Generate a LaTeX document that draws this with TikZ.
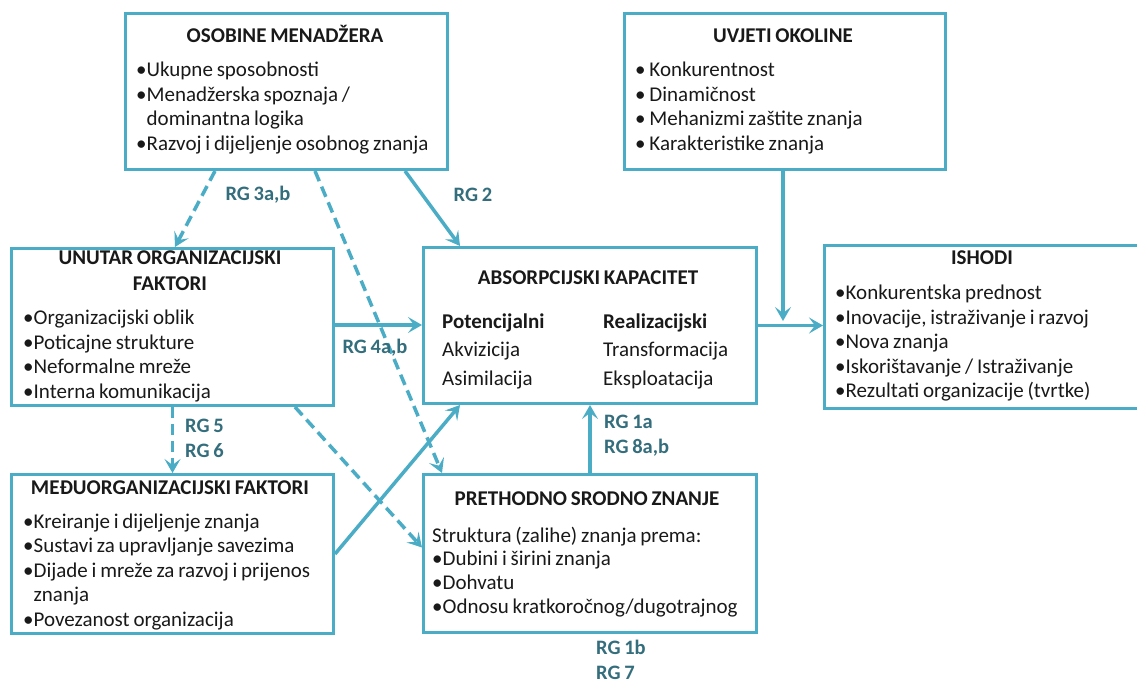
\documentclass[tikz,border=0pt]{standalone}
\usepackage{fontspec}
\setmainfont{Carlito}[WordSpace=0.8]
\usepackage{tikz}
\usetikzlibrary{arrows.meta,positioning}
\definecolor{okvir}{RGB}{75,172,198}
\definecolor{oznaka}{RGB}{52,110,125}
\tikzset{
    % 方框
    kutija/.style={
        draw=okvir,
        line width=3pt,
        anchor=north west,
        inner sep=0pt
    },
    % 标题
    naslov/.style={
        font=\bfseries\fontsize{21}{26}\selectfont,
        anchor=base,
        align=center,
        text=black!90,
        inner sep=0pt
    },
    % 列表文字
    popis/.style={
        font=\fontsize{21}{24.5}\selectfont,
        anchor=base west,
        align=flush left,
        text width=310pt,
        text=black!90,
        inner sep=0pt
    },
    % RG 标注
    rg/.style={
        font=\bfseries\fontsize{20.5}{25}\selectfont,
        text=oznaka,
        align=left,
        inner sep=0pt
    },
    % 实线箭头
    strelica/.style={
        line width=3.5pt,
        draw=okvir,
        -{Stealth[length=14pt, width=16pt, inset=6pt]}
    },
    % 虚线箭头
    crtkana/.style={
        strelica,
        dash pattern=on 11pt off 6pt
    }
}

\begin{document}
\begin{tikzpicture}[x=1pt,y=-1pt]
	\clip (0,0) rectangle (1137,684);
	
	% 方框
	\node[kutija,minimum width=322pt,minimum height=156pt] (menadzer) at (124,12) {};
	\node[kutija,minimum width=321pt,minimum height=156pt] (okolina) at (623,12) {};
	\node[kutija,minimum width=330pt,minimum height=163pt] (ishodi) at (823,244) {};
	\node[kutija,minimum width=322pt,minimum height=157pt] (unutar) at (10,247) {};
	\node[kutija,minimum width=333pt,minimum height=156pt] (kapacitet) at (422,246) {};
	\node[kutija,minimum width=322pt,minimum height=159pt] (medju) at (10,473) {};
	\node[kutija,minimum width=333pt,minimum height=158pt] (znanje) at (422,473) {};
	
	% 标题
	\node[naslov] (menadzerT) at (285,43) {OSOBINE MENADŽERA};
	\node[naslov] (okolinaT) at (783,43) {UVJETI OKOLINE};
	\node[naslov] (ishodiT) at (982,265) {ISHODI};
	\node[naslov] (unutarT) at (170,291) {UNUTAR ORGANIZACIJSKI\\FAKTORI};
	\node[naslov] (kapacitetT) at (588,285) {ABSORPCIJSKI KAPACITET};
	\node[naslov] (medjuT) at (170,494) {MEĐUORGANIZACIJSKI FAKTORI};
	\node[naslov] (znanjeT) at (587,505) {PRETHODNO SRODNO ZNANJE};
	
	% 列表
	\node[popis] (menadzerL) at (136,77) {•Ukupne sposobnosti\\
		•Menadžerska spoznaja /\\ \phantom{•}dominantna logika\\
		•Razvoj i dijeljenje osobnog znanja};
	\node[popis] (okolinaL) at (635,77) {• Konkurentnost\\• Dinamičnost\\
		• Mehanizmi zaštite znanja\\• Karakteristike znanja};
	\node[popis] (ishodiL) at (835,300) {•Konkurentska prednost\\
		•Inovacije, istraživanje i razvoj\\•Nova znanja\\
		•Iskorištavanje / Istraživanje\\•Rezultati organizacije (tvrtke)};
	\node[popis] (unutarL) at (23,325) {•Organizacijski oblik\\
		•Poticajne strukture\\•Neformalne mreže\\•Interna komunikacija};
	\node[popis,text width=150pt,font=\fontsize{21}{28.5}\selectfont]
		(potencijal) at (442,328) {\textbf{Potencijalni}\\Akvizicija\\Asimilacija};
	\node[popis,text width=150pt,font=\fontsize{21}{28.5}\selectfont]
		(realizacija) at (603,328) {\textbf{Realizacijski}\\Transformacija\\Eksploatacija};
	\node[popis] (medjuL) at (23,528) {•Kreiranje i dijeljenje znanja\\
		•Sustavi za upravljanje savezima\\
		•Dijade i mreže za razvoj i prijenos\\ \phantom{•}znanja\\
		•Povezanost organizacija};
	\node[popis,font=\fontsize{21}{23.7}\selectfont] (znanjeL) at (432,542)
		{Struktura (zalihe) znanja prema:\\•Dubini i širini znanja\\
		•Dohvatu\\•Odnosu kratkoročnog/dugotrajnog};
	
	% 汇合点
	\coordinate (spoj) at (783,321);
	
	% 箭头
	\draw[crtkana] ([xshift=91pt]menadzer.south west) to ([xshift=165pt]unutar.north west);
	\draw[crtkana] ([xshift=191pt]menadzer.south west) to ([xshift=20pt]znanje.north west);
	\draw[strelica] ([xshift=281pt]menadzer.south west) to ([xshift=38pt]kapacitet.north west);
	\draw[strelica] (okolina.south -| spoj) to (spoj);
	\draw[strelica] (kapacitet.east) to (kapacitet.east -| ishodi.west);
	\draw[strelica] ([yshift=2pt]unutar.east) to ([yshift=2pt]unutar.east -| kapacitet.west);
	\draw[crtkana] (unutar.south) to (medju.north);
	\draw[crtkana] ([xshift=285pt]unutar.south west) to ([yshift=6pt]znanje.west);
	\draw[strelica] (medju.east) to ([xshift=38pt]kapacitet.south west);
	\draw[strelica] (znanje.north) to (kapacitet.south);
	
	% RG 标注
	\node[rg] (rg3) at (258,195) {RG 3a,b};
	\node[rg] (rg2) at (473,195) {RG 2};
	\node[rg] (rg4) at (375,348) {RG 4a,b};
	\node[rg,anchor=west] (rg5) at (185,438) {RG 5\\RG 6};
	\node[rg,anchor=west] (rg1a) at (604,436) {RG 1a\\RG 8a,b};
	\node[rg,anchor=west] (rg1b) at (596,660) {RG 1b\\RG 7};
\end{tikzpicture}
\end{document}
